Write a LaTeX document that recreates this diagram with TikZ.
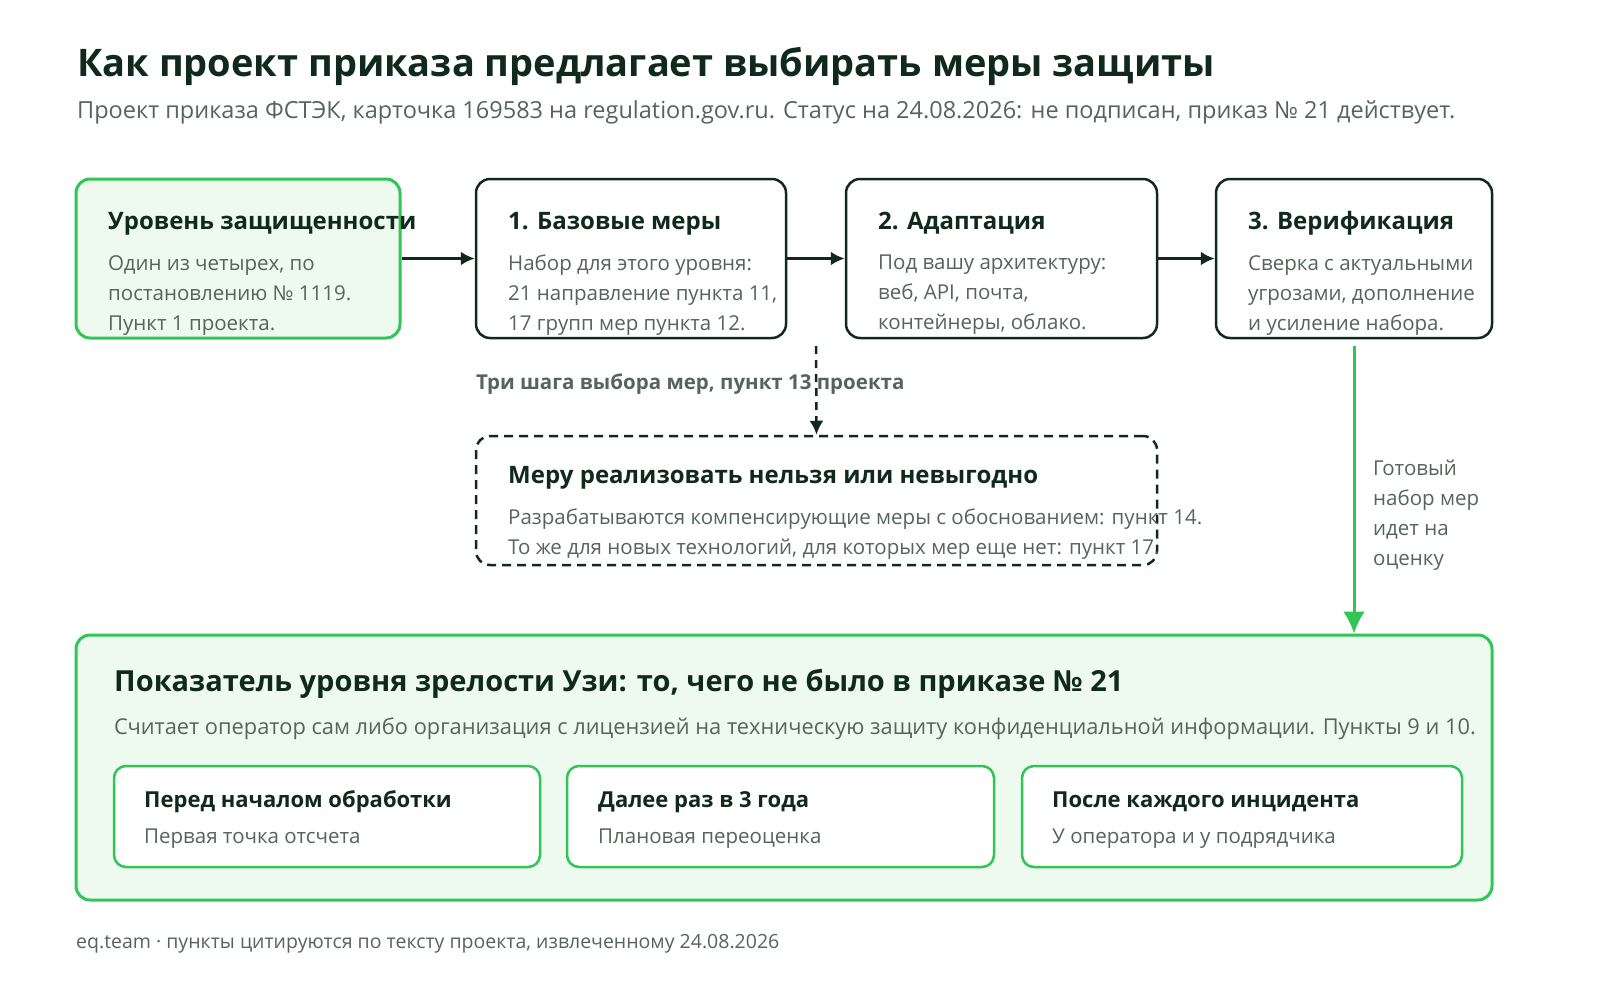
\documentclass[tikz,border=0pt]{standalone}
\usepackage{fontspec}
\setmainfont{Open Sans}
\usetikzlibrary{arrows.meta, positioning}
\definecolor{ink}{HTML}{0F2A1D}
\definecolor{muted}{HTML}{55645C}
\definecolor{leaf}{HTML}{2FC655}
\definecolor{mint}{HTML}{EEFAF0}
\begin{document}
\begin{tikzpicture}[
x=1pt, y=-1pt,
stagebox/.style={draw=ink, line width=2.5pt, rounded corners=14pt, fill=white},
greenbox/.style={draw=leaf, line width=3pt, rounded corners=14pt, fill=mint},
subbox/.style={draw=leaf, line width=2.5pt, rounded corners=12pt, fill=white},
head/.style={anchor=base west, inner sep=0pt, text=ink, font=\fontsize{24}{28}\selectfont\bfseries},
body/.style={anchor=north west, inner sep=0pt, text=muted, align=left, font=\fontsize{20.5}{30}\selectfont},
flow/.style={draw=ink, line width=3pt, -{Latex[length=14pt, width=14pt]}},
]
\useasboundingbox (0,0) rectangle (1600,993);

% title
\node[anchor=base west, inner sep=0pt, text=ink, font=\fontsize{38}{42}\selectfont\bfseries] (title) at (77,76)
{Как проект приказа предлагает выбирать меры защиты};
\node[anchor=base west, inner sep=0pt, text=muted, font=\fontsize{23.5}{26}\selectfont] (sub) at (77,118)
{Проект приказа ФСТЭК, карточка 169583 на regulation.gov.ru. Статус на 24.08.2026: не подписан, приказ № 21 действует.};

% step boxes
\node[greenbox, minimum width=324, minimum height=159] (lvl) at (238,258.5) {};
\node[stagebox, minimum width=310, minimum height=159] (base) at (631,258.5) {};
\node[stagebox, minimum width=311, minimum height=159] (adapt) at (1001.5,258.5) {};
\node[stagebox, minimum width=276, minimum height=159] (verif) at (1354,258.5) {};

\node[head] (lvlh) at (108,229) {Уровень защищенности};
\node[body] (lvlb) at (108,255) {Один из четырех, по\\постановлению № 1119.\\Пункт 1 проекта.};
\node[head] (baseh) at (508,229) {1. Базовые меры};
\node[body] (baseb) at (508,255) {Набор для этого уровня:\\21 направление пункта 11,\\17 групп мер пункта 12.};
\node[head] (adapth) at (878,229) {2. Адаптация};
\node[body] (adaptb) at (878,255) {Под вашу архитектуру:\\веб, API, почта,\\контейнеры, облако.};
\node[head] (verifh) at (1248,229) {3. Верификация};
\node[body] (verifb) at (1248,255) {Сверка с актуальными\\угрозами, дополнение\\и усиление набора.};

\draw[flow] (lvl.east) -- (base.west);
\draw[flow] (base.east) -- (adapt.west);
\draw[flow] (adapt.east) -- (verif.west);

% exception branch
\node[draw=ink, line width=2.5pt, dashed, dash pattern=on 9pt off 6pt, rounded corners=14pt,
  minimum width=681, minimum height=129] (except) at (816.5,500.5) {};
\coordinate (split) at (816,346);
\draw[flow, line width=2.5pt, dash pattern=on 8pt off 6pt] (split) -- (except.north);
\node[anchor=base west, inner sep=0pt, text=muted, font=\fontsize{20.5}{24}\selectfont\bfseries] (steps) at (476,389)
{Три шага выбора мер, пункт 13 проекта};
\node[head] (excepth) at (508,483) {Меру реализовать нельзя или невыгодно};
\node[body] (exceptb) at (508,509) {Разрабатываются компенсирующие меры с обоснованием: пункт 14.\\То же для новых технологий, для которых мер еще нет: пункт 17.};

% maturity block
\node[greenbox, minimum width=1416, minimum height=265] (mature) at (784,767.5) {};
\coordinate (ready) at (verif.south |- 0,346);
\draw[draw=leaf, line width=3pt, -{Latex[length=22pt, width=22pt]}] (ready) -- (mature.north -| ready);
\node[body] (readyl) at (1373,460) {Готовый\\набор мер\\идет на\\оценку};

\node[head, font=\fontsize{29}{32}\selectfont\bfseries] (matureh) at (114,691) {Показатель уровня зрелости Узи: то, чего не было в приказе № 21};
\node[anchor=base west, inner sep=0pt, text=muted, font=\fontsize{21.8}{24}\selectfont] (matureb) at (114,734) {Считает оператор сам либо организация с лицензией на техническую защиту конфиденциальной информации. Пункты 9 и 10.};

\node[subbox, minimum width=426, minimum height=101] (before) at (327,816.5) {};
\node[subbox, minimum width=427, minimum height=101] (every) at (780.5,816.5) {};
\node[subbox, minimum width=440, minimum height=101] (after) at (1242,816.5) {};
\node[head, font=\fontsize{22}{26}\selectfont\bfseries] (beforeh) at (144,807) {Перед началом обработки};
\node[body, anchor=base west] (beforeb) at (144,843) {Первая точка отсчета};
\node[head, font=\fontsize{22}{26}\selectfont\bfseries] (everyh) at (598,807) {Далее раз в 3 года};
\node[body, anchor=base west] (everyb) at (598,843) {Плановая переоценка};
\node[head, font=\fontsize{22}{26}\selectfont\bfseries] (afterh) at (1052,807) {После каждого инцидента};
\node[body, anchor=base west] (afterb) at (1052,843) {У оператора и у подрядчика};

% footer
\node[anchor=base west, inner sep=0pt, text=muted, font=\fontsize{19.5}{22}\selectfont] (foot) at (76,948)
{eq.team · пункты цитируются по тексту проекта, извлеченному 24.08.2026};
\end{tikzpicture}
\end{document}
